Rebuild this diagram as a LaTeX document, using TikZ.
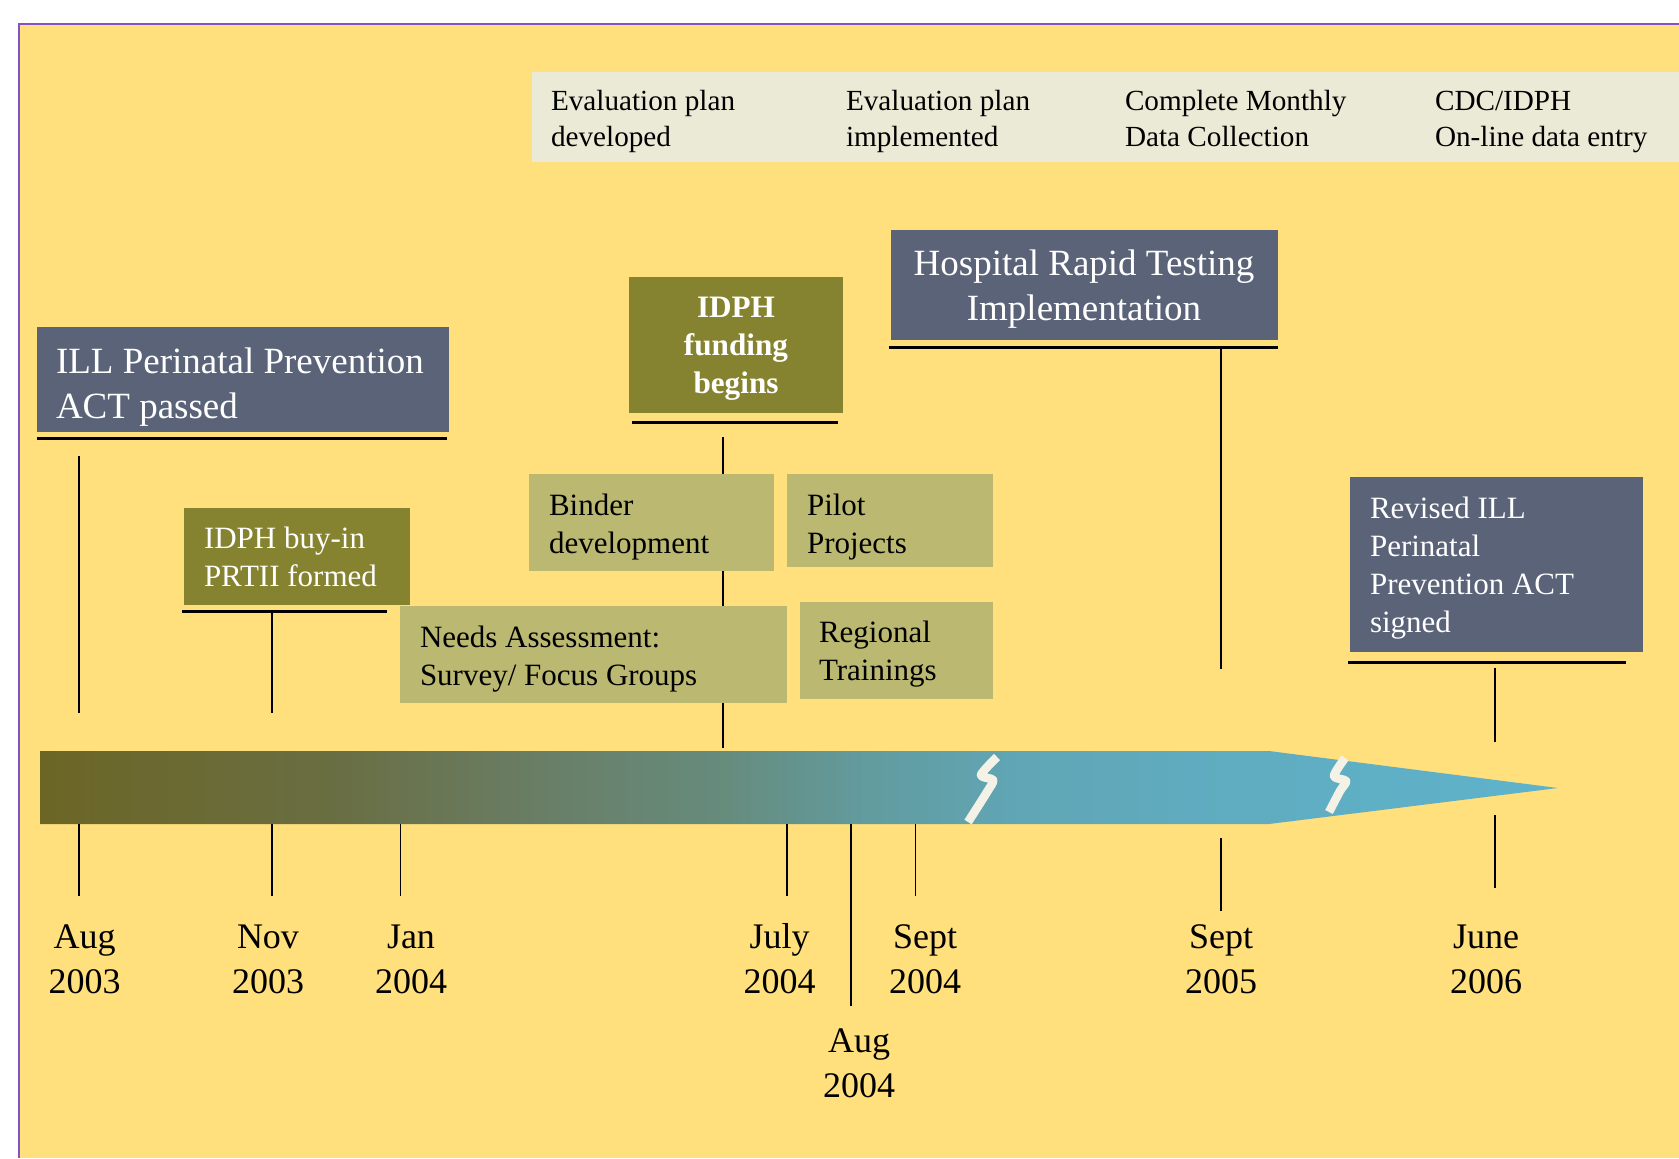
\documentclass[tikz,border=0pt]{standalone}
\usepackage{fontspec}
\setmainfont{Liberation Serif}
\definecolor{bgyellow}{RGB}{255,224,125}
\definecolor{framepurple}{RGB}{135,80,195}
\definecolor{slate}{RGB}{91,99,121}
\definecolor{oliveD}{RGB}{134,131,48}
\definecolor{oliveL}{RGB}{186,184,113}
\definecolor{bandcol}{RGB}{235,234,214}
\definecolor{barA}{RGB}{108,102,37}
\definecolor{barB}{RGB}{105,110,66}
\definecolor{barC}{RGB}{105,125,100}
\definecolor{barD}{RGB}{102,140,125}
\definecolor{barE}{RGB}{98,156,160}
\definecolor{barF}{RGB}{96,166,182}
\definecolor{barG}{RGB}{96,172,192}
\definecolor{barH}{RGB}{94,179,203}
\definecolor{breakcol}{RGB}{244,241,230}
\pgfdeclarehorizontalshading{barshade}{100bp}{color(0bp)=(barA); color(25bp)=(barA);
  color(34.6bp)=(barB); color(41.0bp)=(barC); color(47.6bp)=(barD); color(52.5bp)=(barE);
  color(57.4bp)=(barF); color(64.0bp)=(barG); color(75bp)=(barH); color(100bp)=(barH)}
\newcommand\stL[1]{\vtop{\halign{##\hfil\cr#1\crcr}}}
\newcommand\stC[1]{\vtop{\halign{\hfil##\hfil\cr#1\crcr}}}
\begin{document}
\begin{tikzpicture}[x=0.5pt,y=-0.5pt,
  box/.style={inner sep=0pt, outer sep=0pt, anchor=north west},
  slatebox/.style={box, fill=slate},
  olivebox/.style={box, fill=oliveD},
  lightbox/.style={box, fill=oliveL},
  bandbox/.style={box, fill=bandcol},
  txt/.style={inner sep=0pt, outer sep=0pt, anchor=base west},
  ctxt/.style={inner sep=0pt, outer sep=0pt, anchor=base},
  wtxt/.style={txt, text=white},
  fbig/.style={font=\fontsize{18.5pt}{22.5pt}\selectfont},
  fdate/.style={font=\fontsize{18pt}{22.5pt}\selectfont},
  fmid/.style={font=\fontsize{15.5pt}{19pt}\selectfont},
  fband/.style={font=\fontsize{14.6pt}{17.65pt}\selectfont},
  fbold/.style={font=\fontsize{15.6pt}{19pt}\selectfont\bfseries},
  uline/.style={line width=1.5pt, black},
  conn/.style={line width=0.7pt, black},
  tickline/.style={line width=0.6pt, black},
  breakmark/.style={line width=4.3pt, breakcol, line cap=butt, line join=round}
]
\useasboundingbox (0,0) rectangle (1679,1158);
\fill[white] (0,0) rectangle (1679,1158);
\fill[bgyellow] (19,24) rectangle (1679,1158);
\draw[framepurple, line width=0.8pt] (1679,24) -- (19,24) -- (19,1158);

% evaluation band
\node[bandbox, minimum width=573.5pt, minimum height=45pt] (band) at (532,72) {};
\node[txt, fband] (ev1) at (551,110.7) {\stL{Evaluation plan\cr developed}};
\node[txt, fband] (ev2) at (846,110.7) {\stL{Evaluation plan\cr implemented}};
\node[txt, fband] (ev3) at (1125,110.7) {\stL{Complete Monthly\cr Data Collection}};
\node[txt, fband] (ev4) at (1435,110.7) {\stL{CDC/IDPH\cr On-line data entry}};

% connector coordinates
\coordinate (c-ill-a) at (79,456);   \coordinate (c-ill-b) at (79,713);
\coordinate (c-buy-a) at (272,611);  \coordinate (c-buy-b) at (272,713);
\coordinate (c-fun-a) at (723,437);  \coordinate (c-fun-b) at (723,748);
\coordinate (c-hos-a) at (1221,347); \coordinate (c-hos-b) at (1221,669);
\coordinate (c-rev-a) at (1495,668); \coordinate (c-rev-b) at (1495,742);
\draw[conn] (c-fun-a) -- (c-fun-b);

% boxes
\node[slatebox, minimum width=206pt, minimum height=52.5pt] (ill) at (37,327) {};
\node[slatebox, minimum width=193.5pt, minimum height=55pt] (hosp) at (891,230) {};
\node[olivebox, minimum width=107pt, minimum height=68pt] (fund) at (629,277) {};
\node[olivebox, minimum width=113pt, minimum height=48.5pt] (buyin) at (184,508) {};
\node[lightbox, minimum width=122.5pt, minimum height=48.5pt] (binder) at (529,474) {};
\node[lightbox, minimum width=103pt, minimum height=46.5pt] (pilot) at (787,474) {};
\node[lightbox, minimum width=193.5pt, minimum height=48.5pt] (needs) at (400,606) {};
\node[lightbox, minimum width=96.5pt, minimum height=48.5pt] (regional) at (800,602) {};
\node[slatebox, minimum width=146.5pt, minimum height=87.5pt] (revised) at (1350,477) {};

% underlines
\draw[uline] (37,438) -- (447,438);
\draw[uline] (889,347) -- (1278,347);
\draw[uline] (632,422) -- (838,422);
\draw[uline] (182,611) -- (387,611);
\draw[uline] (1348,662) -- (1626,662);

% box texts
\node[wtxt, fbig] (ill-t) at (56,373) {\stL{ILL Perinatal Prevention\cr ACT passed}};
\node[ctxt, fbig, text=white] (hosp-t) at (1084,275) {\stC{Hospital Rapid Testing\cr Implementation}};
\node[ctxt, fbold, text=white] (fund-t) at (736,317) {\stC{IDPH\cr funding\cr begins}};
\node[wtxt, fmid] (buyin-t) at (204,548) {\stL{IDPH buy-in\cr PRTII formed}};
\node[txt, fmid] (binder-t) at (549,515) {\stL{Binder\cr development}};
\node[txt, fmid] (pilot-t) at (807,515) {\stL{Pilot\cr Projects}};
\node[txt, fmid] (needs-t) at (420,647) {\stL{Needs Assessment:\cr Survey/ Focus Groups}};
\node[txt, fmid] (regional-t) at (819,642) {\stL{Regional\cr Trainings}};
\node[wtxt, fmid] (revised-t) at (1370,518) {\stL{Revised ILL\cr Perinatal\cr Prevention ACT\cr signed}};

% connectors from events to the bar
\draw[conn] (c-ill-a) -- (c-ill-b);
\draw[conn] (c-buy-a) -- (c-buy-b);
\draw[conn] (c-hos-a) -- (c-hos-b);
\draw[conn] (c-rev-a) -- (c-rev-b);

% timeline bar
\shade[shading=barshade]
  (40,751) -- (1269,751) -- (1558,788) -- (1269,824) -- (40,824) -- cycle;
\draw[breakmark] plot[smooth, tension=0.5] coordinates {(997,757) (981,775) (993,780) (987,792) (968,822)};
\draw[breakmark] plot[smooth, tension=0.5] coordinates {(1345,758) (1334,776) (1346,781) (1340,791) (1329,812)};

% date ticks
\coordinate (t1a) at (79,824);   \coordinate (t1b) at (79,896);
\coordinate (t2a) at (272,824);  \coordinate (t2b) at (272,896);
\coordinate (t3a) at (400.5,824);\coordinate (t3b) at (400.5,896);
\coordinate (t4a) at (787,824);  \coordinate (t4b) at (787,896);
\coordinate (t5a) at (851,824);  \coordinate (t5b) at (851,1006);
\coordinate (t6a) at (915.5,824);\coordinate (t6b) at (915.5,896);
\coordinate (t7a) at (1221,838); \coordinate (t7b) at (1221,911);
\coordinate (t8a) at (1495,815); \coordinate (t8b) at (1495,888);
\foreach \i in {1,...,8} {\draw[tickline] (t\i a) -- (t\i b);}

% date labels
\node[ctxt, fdate] (d1) at (84.6,948) {\stC{Aug\cr 2003}};
\node[ctxt, fdate] (d2) at (268,948) {\stC{Nov\cr 2003}};
\node[ctxt, fdate] (d3) at (411,948) {\stC{Jan\cr 2004}};
\node[ctxt, fdate] (d4) at (779.5,948) {\stC{July\cr 2004}};
\node[ctxt, fdate] (d5) at (859,1052) {\stC{Aug\cr 2004}};
\node[ctxt, fdate] (d6) at (925,948) {\stC{Sept\cr 2004}};
\node[ctxt, fdate] (d7) at (1221,948) {\stC{Sept\cr 2005}};
\node[ctxt, fdate] (d8) at (1486,948) {\stC{June\cr 2006}};
\end{tikzpicture}
\end{document}
